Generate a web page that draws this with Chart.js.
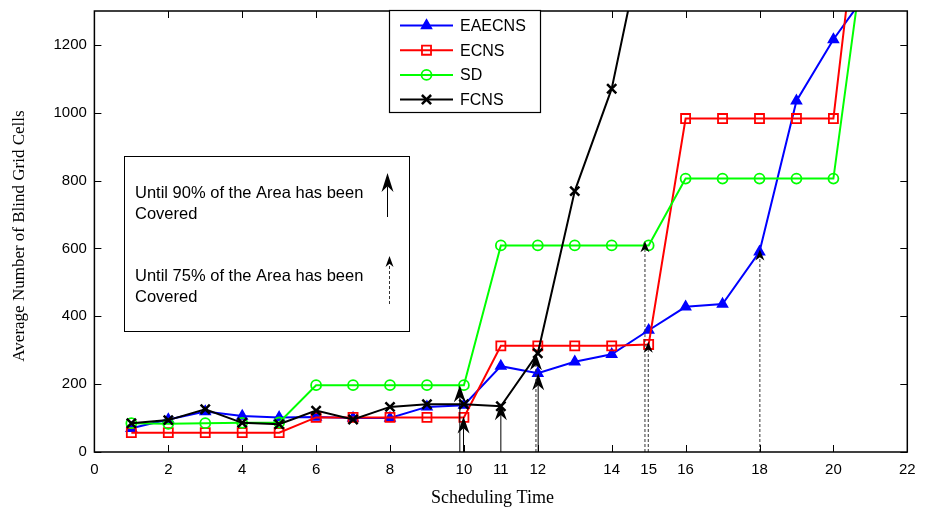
<!DOCTYPE html>
<html><head><meta charset="utf-8">
<script src="https://cdn.jsdelivr.net/npm/chart.js@4/dist/chart.umd.min.js"></script>
<style>html,body{margin:0;padding:0;background:#fff;}#wrap{width:928px;height:511px;}</style>
</head><body><div id="wrap"><canvas id="c" width="928" height="511"></canvas></div>
<script>
// ---- data ----
const schedulingTimes = [1,2,3,4,5,6,7,8,9,10,11,12,13,14,15,16,17,18,19,20,21];
const eaecns = [70, 96, 119, 106, 102, 103, 100, 100, 133, 138, 253, 232, 266, 288, 359, 428, 436, 590, 1035, 1216, 1367];
const ecns   = [57, 57, 57, 57, 57, 102, 102, 102, 102, 102, 313, 313, 313, 313, 317, 983, 983, 983, 983, 983, 1910];
const sd     = [85, 83, 85, 86, 87, 197, 197, 197, 197, 197, 609, 609, 609, 609, 609, 806, 806, 806, 806, 806, 1614];
const fcns   = [85, 94, 126, 86, 82, 122, 96, 133, 141, 141, 135, 291, 769, 1071, 1590];
const xTickValues = [0, 2, 4, 6, 8, 10, 11, 12, 14, 15, 16, 18, 20, 22];
const xTickMarks  = [0, 2, 4, 6, 8, 10, 12, 14, 16, 18, 20, 22];
const yTickValues = [0, 200, 400, 600, 800, 1000, 1200];
const seriesNames = ['EAECNS', 'ECNS', 'SD', 'FCNS'];
const xTitle = 'Scheduling Time';
const yTitle = 'Average Number of Blind Grid Cells';
const note90 = ['Until 90% of the Area has been', 'Covered'];
const note75 = ['Until 75% of the Area has been', 'Covered'];
// coverage arrows: x position, arrow tip value, dashed (75%) or solid (90%)
const arrowX      = [9.89, 9.99, 11.0, 12.01, 11.95, 14.90, 14.99, 18.01];
const arrowTip    = [197, 105, 144, 232, 291, 621, 325, 597];
const arrowDashed = [false, false, false, false, true, true, true, true];

const SANS = '"Liberation Sans", Arial, sans-serif';
const SERIF = '"Liberation Serif", "Times New Roman", serif';

function pts(vals){ return vals.map((v,i)=>({x: schedulingTimes[i], y: v})); }

const styles = [
  {color:'#0000ff', pointStyle:'triangle', radius:5.5, fill:'#0000ff', order:4},
  {color:'#ff0000', pointStyle:'rect', radius:6.4, fill:'rgba(0,0,0,0)', order:3},
  {color:'#00ff00', pointStyle:'circle', radius:5, fill:'rgba(0,0,0,0)', order:2},
  {color:'#000000', pointStyle:'crossRot', radius:6.5, fill:'#000000', order:1}
];
const seriesData = [eaecns, ecns, sd, fcns];

const datasets = seriesNames.map((name, i) => ({
  label: name,
  data: pts(seriesData[i]),
  borderColor: styles[i].color,
  backgroundColor: styles[i].fill,
  pointBorderColor: styles[i].color,
  pointBackgroundColor: styles[i].fill,
  pointStyle: styles[i].pointStyle,
  pointRadius: styles[i].radius,
  pointBorderWidth: i === 3 ? 2.5 : 1.8,
  borderWidth: 2,
  tension: 0,
  fill: false,
  order: styles[i].order
}));

function drawHead(ctx, x, tipY, L, W){
  ctx.beginPath();
  ctx.moveTo(x, tipY);
  ctx.lineTo(x - W/2, tipY + L);
  ctx.lineTo(x, tipY + L*0.7);
  ctx.lineTo(x + W/2, tipY + L);
  ctx.closePath();
  ctx.fill();
}
function drawArrow(ctx, x, fromY, tipY, dashed, L, W){
  ctx.save();
  ctx.strokeStyle = dashed ? '#333' : '#000';
  ctx.lineWidth = 1;
  ctx.setLineDash(dashed ? [3,2] : []);
  ctx.beginPath();
  ctx.moveTo(x, fromY);
  ctx.lineTo(x, tipY + L*0.7);
  ctx.stroke();
  ctx.setLineDash([]);
  ctx.fillStyle = '#000';
  drawHead(ctx, x, tipY, L, W);
  ctx.restore();
}
function drawMarker(ctx, st, x, y){
  ctx.save();
  ctx.strokeStyle = st.color; ctx.fillStyle = st.fill; ctx.lineWidth = 1.8;
  const r = st.radius;
  ctx.beginPath();
  if (st.pointStyle === 'triangle'){
    ctx.moveTo(x, y - r);
    ctx.lineTo(x + r*Math.sin(Math.PI*2/3), y - r*Math.cos(Math.PI*2/3));
    ctx.lineTo(x - r*Math.sin(Math.PI*2/3), y - r*Math.cos(Math.PI*2/3));
    ctx.closePath(); ctx.fill(); ctx.stroke();
  } else if (st.pointStyle === 'rect'){
    const s = r*Math.SQRT1_2; ctx.rect(x - s, y - s, 2*s, 2*s); ctx.stroke();
  } else if (st.pointStyle === 'circle'){
    ctx.arc(x, y, r, 0, Math.PI*2); ctx.stroke();
  } else {
    const s = r*Math.SQRT1_2; ctx.lineWidth = 2.5;
    ctx.moveTo(x - s, y - s); ctx.lineTo(x + s, y + s);
    ctx.moveTo(x + s, y - s); ctx.lineTo(x - s, y + s); ctx.stroke();
  }
  ctx.restore();
}

const decor = {
  id: 'decor',
  afterDatasetsDraw(chart){
    const {ctx, chartArea: a, scales: {x, y}} = chart;
    ctx.save();
    // coverage arrows
    arrowX.forEach((xv, i) => {
      const big = i < 5;
      drawArrow(ctx, x.getPixelForValue(xv), a.bottom, y.getPixelForValue(arrowTip[i]), arrowDashed[i], big ? 17 : 11, big ? 12 : 9);
    });
    // frame
    ctx.strokeStyle = '#000'; ctx.lineWidth = 1.5;
    ctx.strokeRect(a.left, a.top, a.right - a.left, a.bottom - a.top);
    // inward ticks
    ctx.lineWidth = 1;
    ctx.beginPath();
    xTickMarks.forEach(v => {
      const px = Math.round(x.getPixelForValue(v)) + 0.5;
      ctx.moveTo(px, a.bottom); ctx.lineTo(px, a.bottom - 7);
      ctx.moveTo(px, a.top); ctx.lineTo(px, a.top + 7);
    });
    yTickValues.forEach(v => {
      const py = Math.round(y.getPixelForValue(v)) + 0.5;
      ctx.moveTo(a.left, py); ctx.lineTo(a.left + 7, py);
      ctx.moveTo(a.right, py); ctx.lineTo(a.right - 7, py);
    });
    ctx.stroke();

    // legend
    ctx.fillStyle = '#fff';
    ctx.fillRect(389, 10, 151, 102);
    ctx.strokeStyle = '#000'; ctx.lineWidth = 1.2;
    ctx.strokeRect(389.5, 10.5, 151, 102);
    ctx.font = '16px ' + SANS; ctx.textBaseline = 'middle'; ctx.textAlign = 'left';
    seriesNames.forEach((name, i) => {
      const ly = 25.5 + i*24.7;
      ctx.strokeStyle = styles[i].color; ctx.lineWidth = 2;
      ctx.beginPath(); ctx.moveTo(400, ly); ctx.lineTo(453, ly); ctx.stroke();
      drawMarker(ctx, styles[i], 426.5, ly);
      ctx.fillStyle = '#000';
      ctx.fillText(name, 460, ly + 1);
    });

    // note box
    ctx.fillStyle = '#fff';
    ctx.fillRect(124, 156, 285, 175);
    ctx.strokeStyle = '#000'; ctx.lineWidth = 1;
    ctx.strokeRect(124.5, 156.5, 285, 175);
    ctx.fillStyle = '#000'; ctx.font = '16.5px ' + SANS;
    ctx.fillText(note90[0], 135, 193);
    ctx.fillText(note90[1], 135, 214);
    ctx.fillText(note75[0], 135, 276);
    ctx.fillText(note75[1], 135, 297);
    drawArrow(ctx, 387.5, 217, 173, false, 19, 12);
    drawArrow(ctx, 389.5, 304, 256, true, 11, 8);

    // axis titles
    ctx.fillStyle = '#000';
    ctx.font = '18px ' + SERIF; ctx.textAlign = 'center'; ctx.textBaseline = 'middle';
    ctx.fillText(xTitle, 492.5, 498);
    ctx.save();
    ctx.translate(20, 236); ctx.rotate(-Math.PI/2);
    ctx.font = '17px ' + SERIF;
    ctx.fillText(yTitle, 0, 0);
    ctx.restore();
    ctx.restore();
  }
};

new Chart(document.getElementById('c'), {
  type: 'line',
  data: { datasets },
  options: {
    responsive: false,
    animation: false,
    devicePixelRatio: 1,
    layout: { padding: { top: 11, right: 20.7, bottom: 0, left: 0 } },
    plugins: { legend: { display: false }, tooltip: { enabled: false } },
    scales: {
      x: {
        type: 'linear', min: 0, max: 22,
        grid: { display: false, drawTicks: false }, border: { display: false },
        afterBuildTicks: s => { s.ticks = xTickValues.map(v => ({ value: v })); },
        afterFit: s => { s.height = 59; s.paddingLeft = 0; s.paddingRight = 0; },
        ticks: { font: { family: SANS, size: 15 }, color: '#000', padding: 9, maxRotation: 0, autoSkip: false,
                 callback: v => String(v) }
      },
      y: {
        type: 'linear', min: 0, max: 1300,
        grid: { display: false, drawTicks: false }, border: { display: false },
        afterBuildTicks: s => { s.ticks = yTickValues.map(v => ({ value: v })); },
        afterFit: s => { s.width = 94.4; s.paddingTop = 0; s.paddingBottom = 0; },
        ticks: { font: { family: SANS, size: 15 }, color: '#000', padding: 7.5,
                 callback: v => String(v) }
      }
    }
  },
  plugins: [decor]
});
</script></body></html>
